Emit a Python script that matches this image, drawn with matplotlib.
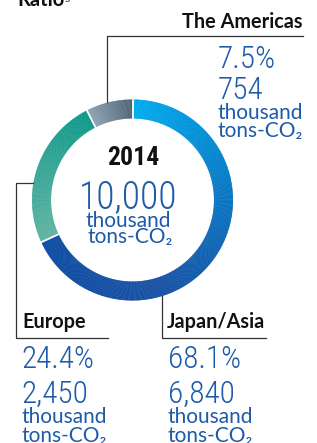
import numpy as np
import matplotlib
matplotlib.use("Agg")
import matplotlib.pyplot as plt
from matplotlib.patches import Wedge
from matplotlib.colors import to_rgb

# data
regions = ["Japan/Asia", "Europe", "The Americas"]
shares = [68.1, 24.4, 7.5]
pct_labels = ["68.1%", "24.4%", "7.5%"]
amount_labels = ["6,840", "2,450", "754"]
total_label = "10,000"
year = "2014"
unit_1 = "thousand"
unit_2 = "tons-CO\u2082"

# gradient stops per segment (start -> end, clockwise)
grad = [["#00adee", "#0879c6", "#1a51a3", "#0d4ea3"],
        ["#61b4a3", "#0f9a8a"],
        ["#90a6b5", "#506475"]]

blue = "#1d5aa8"
num_font = ["Roboto Condensed", "Lato", "DejaVu Sans"]
txt_font = ["Lato", "DejaVu Sans"]

W, H = 317, 443
fig = plt.figure(figsize=(W / 100, H / 100), dpi=100)
ax = fig.add_axes([0, 0, 1, 1])
ax.set_xlim(0, W)
ax.set_ylim(H, 0)
ax.axis("off")

cx, cy, R, ring = 132.5, 200, 100.5, 19

def interp(stops, t):
    cols = np.array([to_rgb(c) for c in stops])
    pos = np.linspace(0, 1, len(cols))
    return tuple(np.interp(t, pos, cols[:, k]) for k in range(3))

# donut, drawn in fine steps for the gradient (y axis inverted -> clockwise)
start = -90.0
for share, stops in zip(shares, grad):
    span = 360 * share / sum(shares)
    n = max(int(span * 2), 2)
    edges = np.linspace(start, start + span, n + 1)
    for i in range(n):
        t = (i + 0.5) / n
        ax.add_patch(Wedge((cx, cy), R, edges[i], edges[i + 1] + 0.3,
                           width=ring, color=interp(stops, t), lw=0))
    start += span

# thin white gaps between segments
start = -90.0
for share in shares:
    a = np.deg2rad(start)
    ax.plot([cx + (R - ring) * np.cos(a), cx + R * np.cos(a)],
            [cy + (R - ring) * np.sin(a), cy + R * np.sin(a)],
            color="white", lw=1.3)
    start += 360 * share / sum(shares)

# leader lines
lc, lw = "#333333", 0.9
ax.plot([107, 107, 303], [102, 36, 36], color=lc, lw=lw)
ax.plot([33, 16, 16, 108], [183, 183, 338, 338], color=lc, lw=lw)
ax.plot([162, 162, 266], [296, 338, 338], color=lc, lw=lw)

# cut-off title at the top
ax.text(17, 6, "Ratio", fontsize=14.5, fontweight="bold", family=txt_font,
        color="#111111", va="baseline")
ax.text(65, 2, "5", fontsize=7, fontweight="bold", family=txt_font,
        color=blue, va="baseline")

# centre
ax.text(133, 165, year, fontsize=18.5, fontweight="bold", family=num_font,
        color="#111111", ha="center", va="baseline")
ax.text(128, 208, total_label, fontsize=27, fontweight="light",
        family=num_font, color=blue, ha="center", va="baseline")
ax.text(128, 227, unit_1, fontsize=15, family=txt_font, color=blue,
        ha="center", va="baseline")
ax.text(130, 243, unit_2, fontsize=15, family=txt_font, color=blue,
        ha="center", va="baseline")

# region labels
ax.text(303, 28, regions[2], fontsize=14.3, fontweight="bold",
        family=txt_font, color="#111111", ha="right", va="baseline")
ax.text(22, 328, regions[1], fontsize=14.3, fontweight="bold",
        family=txt_font, color="#111111", va="baseline")
ax.text(167, 328, regions[0], fontsize=14.3, fontweight="bold",
        family=txt_font, color="#111111", va="baseline")

# value blocks: (x, baselines for pct, amount, unit1, unit2)
blocks = {2: (218, [68, 99, 119, 137]),
          1: (21, [368, 403, 423, 442]),
          0: (168, [368, 403, 423, 442])}
for i, (x, ys) in blocks.items():
    ax.text(x, ys[0], pct_labels[i], fontsize=22.5, fontweight="light",
            family=num_font, color=blue, va="baseline")
    ax.text(x, ys[1], amount_labels[i], fontsize=22.5, fontweight="light",
            family=num_font, color=blue, va="baseline")
    ax.text(x, ys[2], unit_1, fontsize=15, family=txt_font, color=blue,
            va="baseline")
    ax.text(x, ys[3], unit_2, fontsize=15, family=txt_font, color=blue,
            va="baseline")

fig.savefig("out.png", dpi=100, facecolor="white")
